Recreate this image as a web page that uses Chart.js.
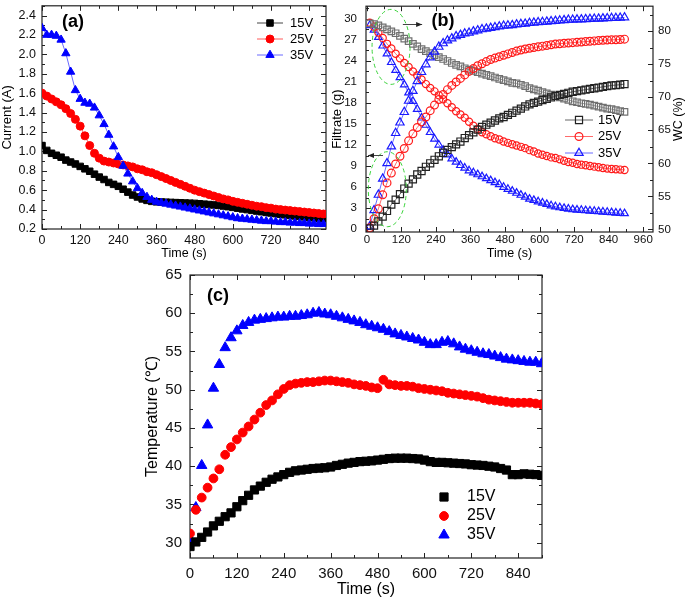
<!DOCTYPE html>
<html><head><meta charset="utf-8">
<script src="https://cdn.jsdelivr.net/npm/chart.js@4/dist/chart.umd.min.js"></script>
<style>
html,body{margin:0;padding:0;background:#fff;}
body{width:685px;height:601px;position:relative;overflow:hidden;}
canvas{position:absolute;}
#ca{left:0;top:0;}
#cb{left:330px;top:0;}
#cc{left:140px;top:262px;}
</style></head><body>
<canvas id="ca" width="340" height="266"></canvas>
<canvas id="cb" width="355" height="266"></canvas>
<canvas id="cc" width="420" height="339"></canvas>
<script>
// ---------- DATA ----------
const seriesLabels = ['15V', '25V', '35V'];

// Panel (a): current vs time
const timeA = [0,15,30,45,60,75,90,105,120,135,150,165,180,195,210,225,240,255,270,285,300,315,330,345,360,375,390,405,420,435,450,465,480,495,510,525,540,555,570,585,600,615,630,645,660,675,690,705,720,735,750,765,780,795,810,825,840,855,870,885];
const currentA15 = [1.06,1.01,0.98,0.96,0.94,0.91,0.89,0.87,0.845,0.82,0.795,0.765,0.735,0.71,0.68,0.66,0.64,0.61,0.58,0.55,0.53,0.51,0.495,0.485,0.48,0.478,0.476,0.474,0.472,0.47,0.468,0.466,0.464,0.46,0.456,0.452,0.448,0.443,0.437,0.43,0.423,0.415,0.407,0.40,0.392,0.385,0.378,0.371,0.365,0.358,0.352,0.346,0.34,0.335,0.33,0.325,0.32,0.316,0.312,0.308];
const currentA25 = [1.60,1.57,1.54,1.51,1.48,1.44,1.39,1.33,1.26,1.16,1.06,0.98,0.93,0.90,0.89,0.88,0.87,0.86,0.85,0.84,0.82,0.81,0.79,0.78,0.76,0.74,0.72,0.70,0.68,0.66,0.64,0.62,0.60,0.585,0.57,0.555,0.54,0.525,0.51,0.50,0.485,0.475,0.465,0.455,0.445,0.435,0.43,0.42,0.415,0.405,0.40,0.395,0.39,0.385,0.38,0.375,0.37,0.365,0.36,0.355];
const currentA35 = [2.27,2.20,2.20,2.19,2.15,2.01,1.82,1.63,1.54,1.50,1.49,1.45,1.37,1.28,1.17,1.05,0.94,0.85,0.77,0.69,0.62,0.57,0.53,0.50,0.48,0.47,0.46,0.45,0.44,0.43,0.42,0.41,0.40,0.39,0.38,0.37,0.36,0.35,0.34,0.33,0.32,0.31,0.305,0.30,0.295,0.29,0.285,0.28,0.28,0.275,0.27,0.27,0.265,0.265,0.26,0.26,0.255,0.255,0.25,0.25];
const ticksAx = [0,120,240,360,480,600,720,840];
const ticksAy = [0.2,0.4,0.6,0.8,1.0,1.2,1.4,1.6,1.8,2.0,2.2,2.4];

// Panel (b): filtrate (left axis) and water content (right axis)
const timeB = [10,25,40,55,70,85,100,115,130,145,160,175,190,205,220,235,250,265,280,295,310,325,340,355,370,385,400,415,430,445,460,475,490,505,520,535,550,565,580,595,610,625,640,655,670,685,700,715,730,745,760,775,790,805,820,835,850,865,880,895];
const filtrate15 = [0.1,0.5,1.1,1.8,2.6,3.5,4.2,5.0,5.8,6.5,7.1,7.8,8.3,8.9,9.4,9.9,10.4,10.9,11.3,11.7,12.1,12.5,13.0,13.4,13.8,14.2,14.6,14.9,15.2,15.5,15.8,16.0,16.3,16.6,16.9,17.2,17.5,17.8,18.0,18.2,18.4,18.6,18.8,19.0,19.15,19.3,19.45,19.6,19.7,19.8,19.9,20.0,20.1,20.2,20.3,20.4,20.5,20.55,20.6,20.7];
const filtrate25 = [0.2,1.5,2.9,4.9,6.6,8.0,9.3,10.4,11.5,12.6,13.6,14.5,15.3,16.0,16.9,17.7,18.5,19.2,19.9,20.5,21.0,21.5,22.0,22.5,22.9,23.3,23.6,23.9,24.2,24.4,24.6,24.8,25.0,25.2,25.4,25.55,25.7,25.8,25.9,26.0,26.1,26.2,26.3,26.4,26.45,26.5,26.55,26.6,26.65,26.7,26.75,26.8,26.85,26.9,26.95,26.98,27.0,27.02,27.05,27.1];
const filtrate35 = [0.4,2.7,4.9,7.2,9.4,11.8,13.7,15.2,16.7,18.3,19.7,21.1,22.4,23.5,24.5,25.3,26.0,26.5,26.9,27.2,27.5,27.7,27.9,28.0,28.2,28.35,28.5,28.6,28.7,28.8,28.9,29.0,29.05,29.1,29.2,29.25,29.3,29.4,29.45,29.5,29.55,29.6,29.65,29.7,29.75,29.8,29.85,29.87,29.9,29.92,29.95,29.97,30.0,30.02,30.05,30.08,30.1,30.12,30.15,30.2];
const wc15 = [81.2,81.1,80.9,80.6,80.3,80.0,79.7,79.3,78.9,78.5,78.1,77.7,77.3,77.0,76.7,76.4,76.1,75.8,75.5,75.2,74.9,74.7,74.4,74.2,74.0,73.8,73.6,73.4,73.2,73.0,72.8,72.6,72.4,72.2,72.1,71.9,71.7,71.4,71.2,71.0,70.8,70.6,70.4,70.2,70.0,69.8,69.6,69.4,69.25,69.1,69.0,68.9,68.75,68.6,68.45,68.3,68.2,68.05,67.9,67.8];
const wc25 = [81.3,80.7,79.8,79.0,78.1,77.4,76.6,75.9,75.2,74.6,73.9,73.3,72.7,72.0,71.4,70.9,70.3,69.7,69.1,68.5,67.9,67.4,66.9,66.3,65.7,65.2,64.7,64.4,64.1,63.8,63.6,63.3,63.1,62.9,62.7,62.5,62.3,62.0,61.8,61.5,61.3,61.1,60.9,60.8,60.6,60.4,60.2,60.1,59.9,59.8,59.7,59.6,59.5,59.4,59.3,59.2,59.15,59.1,59.05,59.0];
const wc35 = [80.9,80.2,79.1,77.8,76.6,75.3,74.1,73.0,71.9,70.7,69.4,68.2,66.9,65.8,64.7,63.7,62.8,62.0,61.3,60.7,60.2,59.7,59.3,58.9,58.6,58.3,58.0,57.7,57.4,57.1,56.8,56.4,56.1,55.8,55.5,55.2,54.9,54.6,54.4,54.2,54.0,53.8,53.6,53.45,53.3,53.2,53.1,53.0,52.95,52.9,52.85,52.8,52.75,52.7,52.65,52.6,52.55,52.5,52.45,52.4];
const ticksBx = [0,120,240,360,480,600,720,840,960];
const ticksBy = [0,3,6,9,12,15,18,21,24,27,30];
const ticksBy2 = [50,55,60,65,70,75,80];

// Panel (c): temperature vs time
const timeC = [0,15,30,45,60,75,90,105,120,135,150,165,180,195,210,225,240,255,270,285,300,315,330,345,360,375,390,405,420,435,450,465,480,495,510,525,540,555,570,585,600,615,630,645,660,675,690,705,720,735,750,765,780,795,810,825,840,855,870,885,900];
const temp15 = [29.5,30.1,30.7,31.4,32.2,32.8,33.4,33.9,34.7,35.5,36.2,36.9,37.4,37.9,38.3,38.6,38.9,39.2,39.4,39.5,39.6,39.7,39.75,39.8,39.9,40.1,40.25,40.4,40.5,40.6,40.65,40.7,40.8,40.9,41.0,41.05,41.05,41.05,41.0,40.95,40.8,40.6,40.5,40.5,40.45,40.4,40.35,40.3,40.2,40.15,40.1,40.0,39.9,39.7,39.5,38.9,38.9,39.0,38.95,38.9,38.8];
const temp25 = [31.2,34.3,35.9,37.2,38.4,39.6,41.5,42.5,43.5,44.4,45.2,46.1,47.0,48.0,48.6,49.4,50.1,50.6,50.8,50.9,51.0,51.0,51.1,51.2,51.2,51.1,51.0,50.9,50.7,50.6,50.5,50.3,50.2,51.3,50.7,50.6,50.5,50.5,50.4,50.2,50.1,50.0,49.9,49.8,49.6,49.5,49.4,49.3,49.2,49.1,48.9,48.7,48.6,48.5,48.4,48.3,48.3,48.3,48.3,48.2,48.1];
const temp35 = [30.5,34.6,40.1,45.4,50.2,53.3,55.5,56.8,57.7,58.4,58.8,59.1,59.2,59.3,59.4,59.5,59.5,59.6,59.6,59.7,59.8,60.0,60.1,59.9,59.8,59.6,59.4,59.2,59.0,58.8,58.5,58.3,58.1,57.9,57.6,57.3,57.1,56.9,56.7,56.5,56.2,55.9,55.9,56.2,56.3,56.0,55.6,55.3,55.1,54.9,54.7,54.6,54.4,54.2,54.0,53.9,53.8,53.7,53.6,53.6,53.4];
const ticksCx = [0,120,240,360,480,600,720,840];
const ticksCy = [30,35,40,45,50,55,60,65];

// ---------- HELPERS ----------
const FONT = "'Liberation Sans', Arial, Helvetica, sans-serif";
const pts = (xs, ys) => xs.map((x, i) => ({x: x, y: ys[i]}));

function axis(o) {
  return {
    type: 'linear', position: o.position, min: o.min, max: o.max,
    grid: {display: false, drawTicks: false}, border: {display: false},
    ticks: {padding: o.pad, font: {family: FONT, size: o.fs}, color: '#111',
            callback: o.fmt || (v => String(v))},
    title: {display: !!o.title, text: o.title, color: '#000',
            font: {family: FONT, size: o.tfs}, padding: o.tpad || {top: 0, bottom: 0}},
    afterBuildTicks: s => { s.ticks = o.tickVals.map(v => ({value: v})); },
    afterFit: s => {
      if (o.w != null) s.width = o.w;
      if (o.h != null) s.height = o.h;
      s.paddingLeft = 0; s.paddingRight = 0; s.paddingTop = 0; s.paddingBottom = 0;
    }
  };
}

function drawMarker(ctx, style, r, x, y) {
  ctx.beginPath();
  if (style === 'rect') {
    const s = r * Math.SQRT1_2;
    ctx.rect(x - s, y - s, 2 * s, 2 * s);
  } else if (style === 'triangle') {
    let a = 0;
    ctx.moveTo(x + Math.sin(a) * r, y - Math.cos(a) * r);
    a += 2 * Math.PI / 3;
    ctx.lineTo(x + Math.sin(a) * r, y - Math.cos(a) * r);
    a += 2 * Math.PI / 3;
    ctx.lineTo(x + Math.sin(a) * r, y - Math.cos(a) * r);
    ctx.closePath();
  } else {
    ctx.arc(x, y, r, 0, Math.PI * 2);
  }
  ctx.fill();
  ctx.stroke();
}

const framePlugin = {
  id: 'frame',
  beforeDatasetsDraw(chart, args, o) {
    const {ctx, chartArea: a, scales} = chart;
    ctx.save();
    ctx.strokeStyle = o.color; ctx.lineWidth = o.width;
    ctx.strokeRect(a.left, a.top, a.right - a.left, a.bottom - a.top);
    ctx.lineWidth = 1;
    const vals = (scale) => {
      const maj = scale.ticks.map(t => t.value);
      const step = maj[1] - maj[0];
      const mnr = [];
      if (maj[0] - step / 2 >= scale.min) mnr.push(maj[0] - step / 2);
      for (let i = 0; i < maj.length - 1; i++) mnr.push((maj[i] + maj[i + 1]) / 2);
      if (maj[maj.length - 1] + step / 2 <= scale.max) mnr.push(maj[maj.length - 1] + step / 2);
      return [maj.map(v => [v, o.major]), mnr.map(v => [v, o.minor])].flat();
    };
    const line = (x1, y1, x2, y2) => { ctx.beginPath(); ctx.moveTo(x1, y1); ctx.lineTo(x2, y2); ctx.stroke(); };
    vals(scales.x).forEach(([v, len]) => {
      const p = Math.round(scales.x.getPixelForValue(v)) + 0.5;
      if (p < a.left - 0.5 || p > a.right + 0.5) return;
      line(p, a.bottom, p, a.bottom - len);
      line(p, a.top, p, a.top + len);
    });
    vals(scales.y).forEach(([v, len]) => {
      const p = Math.round(scales.y.getPixelForValue(v)) + 0.5;
      if (p < a.top - 0.5 || p > a.bottom + 0.5) return;
      line(a.left, p, a.left + len, p);
      if (!o.rightAxis) line(a.right, p, a.right - len, p);
    });
    if (o.rightAxis) {
      const sr = scales[o.rightAxis];
      vals(sr).forEach(([v, len]) => {
        const p = Math.round(sr.getPixelForValue(v)) + 0.5;
        if (p < a.top - 0.5 || p > a.bottom + 0.5) return;
        line(a.right, p, a.right - len, p);
      });
    }
    ctx.restore();
  }
};

const decoPlugin = {
  id: 'deco',
  afterDraw(chart, args, o) {
    const {ctx, chartArea: a, scales} = chart;
    ctx.save();
    if (o.panel) {
      ctx.font = 'bold ' + o.panel.size + 'px ' + FONT;
      ctx.fillStyle = '#000'; ctx.textAlign = 'center'; ctx.textBaseline = 'middle';
      ctx.fillText(o.panel.text, a.left + o.panel.dx, a.top + o.panel.dy);
    }
    if (o.rightTitle) {
      const rt = o.rightTitle;
      ctx.save();
      ctx.translate(chart.width - rt.dxFromRight, (a.top + a.bottom) / 2);
      ctx.rotate(-Math.PI / 2);
      ctx.font = rt.size + 'px ' + FONT;
      ctx.fillStyle = '#000'; ctx.textAlign = 'center'; ctx.textBaseline = 'middle';
      ctx.fillText(rt.text, 0, 0);
      ctx.restore();
    }
    (o.ellipses || []).forEach(e => {
      ctx.strokeStyle = '#39d239'; ctx.lineWidth = 1; ctx.setLineDash([4, 3]);
      ctx.beginPath();
      ctx.ellipse(scales.x.getPixelForValue(e.x), scales.y.getPixelForValue(e.y), e.rx, e.ry, e.rot || 0, 0, Math.PI * 2);
      ctx.stroke();
      ctx.setLineDash([]);
    });
    (o.arrows || []).forEach(ar => {
      const x1 = scales.x.getPixelForValue(ar.from), x2 = scales.x.getPixelForValue(ar.to);
      const y = Math.round(scales.y.getPixelForValue(ar.y)) + 0.5;
      ctx.strokeStyle = '#444'; ctx.fillStyle = '#222'; ctx.lineWidth = 1;
      ctx.beginPath(); ctx.moveTo(x1, y); ctx.lineTo(x2, y); ctx.stroke();
      const d = Math.sign(x2 - x1);
      ctx.beginPath(); ctx.moveTo(x2, y); ctx.lineTo(x2 - d * 6, y - 2.5); ctx.lineTo(x2 - d * 6, y + 2.5); ctx.closePath(); ctx.fill();
    });
    if (o.legend) {
      const L = o.legend;
      L.items.forEach((idx, i) => {
        const ds = chart.data.datasets[idx];
        const y = L.y0 + i * L.dy;
        if (L.lineLen) {
          ctx.strokeStyle = ds.borderColor; ctx.lineWidth = 1;
          ctx.beginPath(); ctx.moveTo(L.x - L.lineLen / 2, y); ctx.lineTo(L.x + L.lineLen / 2, y); ctx.stroke();
        }
        ctx.fillStyle = ds.pointBackgroundColor; ctx.strokeStyle = ds.pointBorderColor; ctx.lineWidth = ds.pointBorderWidth;
        drawMarker(ctx, ds.pointStyle, ds.pointRadius, L.x, y);
        ctx.fillStyle = '#000'; ctx.font = L.fs + 'px ' + FONT;
        ctx.textAlign = 'left'; ctx.textBaseline = 'middle';
        ctx.fillText(ds.label, L.textX, y);
      });
    }
    ctx.restore();
  }
};

function ds(label, xs, ys, o) {
  return Object.assign({
    label: label, data: pts(xs, ys), showLine: true, borderWidth: 1,
    pointBorderWidth: 1, pointHoverRadius: 0
  }, o);
}

const baseOpts = {responsive: false, animation: false, events: [],
  plugins: {legend: {display: false}, tooltip: {enabled: false}}};

// ---------- PANEL (a) ----------
new Chart(document.getElementById('ca'), {
  type: 'scatter',
  data: {datasets: [
    ds(seriesLabels[0], timeA, currentA15, {borderColor: '#444', pointStyle: 'rect', pointRadius: 4.6,
       pointBackgroundColor: '#000', pointBorderColor: '#000', clip: 0, order: 2}),
    ds(seriesLabels[1], timeA, currentA25, {borderColor: '#ff5a5a', pointStyle: 'circle', pointRadius: 4.0,
       pointBackgroundColor: '#ff0000', pointBorderColor: '#ff0000', clip: 0, order: 1}),
    ds(seriesLabels[2], timeA, currentA35, {borderColor: '#6a6aff', pointStyle: 'triangle', pointRadius: 4.8,
       pointBackgroundColor: '#0000ff', pointBorderColor: '#0000ff', clip: 0, order: 0})
  ]},
  options: Object.assign({}, baseOpts, {
    layout: {padding: {left: 0, top: 1, right: 14, bottom: 0}},
    scales: {
      x: axis({position: 'bottom', min: 0, max: 893, tickVals: ticksAx, pad: 4, fs: 12.5, h: 37,
               title: 'Time (s)', tfs: 12.5, tpad: {top: 0, bottom: 4.5}}),
      y: axis({position: 'left', min: 0.2, max: 2.5, tickVals: ticksAy, pad: 6, fs: 12.5, w: 42,
               fmt: v => v.toFixed(1), title: 'Current (A)', tfs: 13, tpad: {top: 0, bottom: 0}})
    },
    plugins: Object.assign({}, baseOpts.plugins, {
      frame: {color: '#222', width: 1.2, major: 5, minor: 3},
      deco: {panel: {text: '(a)', size: 18, dx: 31, dy: 16},
             legend: {items: [0, 1, 2], x: 270, lineLen: 26, textX: 290, y0: 23, dy: 16, fs: 13}}
    })
  }),
  plugins: [framePlugin, decoPlugin]
});

// ---------- PANEL (b) ----------
const openPt = 'rgba(0,0,0,0)';
new Chart(document.getElementById('cb'), {
  type: 'scatter',
  data: {datasets: [
    ds(seriesLabels[0], timeB, filtrate15, {yAxisID: 'y', borderColor: '#666', pointStyle: 'rect', pointRadius: 5,
       pointBackgroundColor: openPt, pointBorderColor: '#222', pointBorderWidth: 1.2}),
    ds(seriesLabels[1], timeB, filtrate25, {yAxisID: 'y', borderColor: '#ff6a6a', pointStyle: 'circle', pointRadius: 3.9,
       pointBackgroundColor: openPt, pointBorderColor: '#ff1a1a', pointBorderWidth: 1.2}),
    ds(seriesLabels[2], timeB, filtrate35, {yAxisID: 'y', borderColor: '#6a6aff', pointStyle: 'triangle', pointRadius: 4.8,
       pointBackgroundColor: openPt, pointBorderColor: '#1a1aff', pointBorderWidth: 1.2}),
    ds(seriesLabels[0], timeB, wc15, {yAxisID: 'y2', borderColor: '#999', pointStyle: 'rect', pointRadius: 4.6,
       pointBackgroundColor: openPt, pointBorderColor: '#707070', pointBorderWidth: 1.2}),
    ds(seriesLabels[1], timeB, wc25, {yAxisID: 'y2', borderColor: '#ff6a6a', pointStyle: 'circle', pointRadius: 3.6,
       pointBackgroundColor: openPt, pointBorderColor: '#ff1a1a', pointBorderWidth: 1.2}),
    ds(seriesLabels[2], timeB, wc35, {yAxisID: 'y2', borderColor: '#6a6aff', pointStyle: 'triangle', pointRadius: 4.4,
       pointBackgroundColor: openPt, pointBorderColor: '#1a1aff', pointBorderWidth: 1.2})
  ]},
  options: Object.assign({}, baseOpts, {
    layout: {padding: {left: 0, top: 1, right: 0, bottom: 0}},
    scales: {
      x: axis({position: 'bottom', min: -3, max: 994, tickVals: ticksBx, pad: 1, fs: 11.5, h: 34,
               title: 'Time (s)', tfs: 12.5, tpad: {top: 0, bottom: 4.5}}),
      y: axis({position: 'left', min: -0.4, max: 31.8, tickVals: ticksBy, pad: 9, fs: 11.5, w: 36,
               title: 'Filtrate (g)', tfs: 13, tpad: {top: 0, bottom: 0}}),
      y2: axis({position: 'right', min: 49.6, max: 83.8, tickVals: ticksBy2, pad: 5, fs: 11.5, w: 32})
    },
    plugins: Object.assign({}, baseOpts.plugins, {
      frame: {color: '#222', width: 1.2, major: 5, minor: 3, rightAxis: 'y2'},
      deco: {panel: {text: '(b)', size: 18, dx: 77, dy: 15},
             rightTitle: {text: 'WC (%)', size: 12.5, dxFromRight: 6},
             ellipses: [{x: 84, y: 26.0, rx: 19, ry: 37.5}, {x: 71, y: 5.7, rx: 19, ry: 37.5}],
             arrows: [{from: 125, to: 192, y: 29.3}, {from: 56, to: 4, y: 10.6}],
             legend: {items: [0, 1, 2], x: 249, lineLen: 28, textX: 268, y0: 120, dy: 16.5, fs: 13}}
    })
  }),
  plugins: [framePlugin, decoPlugin]
});

// ---------- PANEL (c) ----------
new Chart(document.getElementById('cc'), {
  type: 'scatter',
  data: {datasets: [
    ds(seriesLabels[0], timeC, temp15, {showLine: false, pointStyle: 'rect', pointRadius: 5.8,
       pointBackgroundColor: '#000', pointBorderColor: '#000', borderColor: '#000', clip: 0}),
    ds(seriesLabels[1], timeC, temp25, {showLine: false, pointStyle: 'circle', pointRadius: 4.4,
       pointBackgroundColor: '#ff0000', pointBorderColor: '#ff0000', borderColor: '#ff0000', clip: 0}),
    ds(seriesLabels[2], timeC, temp35, {showLine: false, pointStyle: 'triangle', pointRadius: 6,
       pointBackgroundColor: '#0000ff', pointBorderColor: '#0000ff', borderColor: '#0000ff', clip: 0})
  ]},
  options: Object.assign({}, baseOpts, {
    layout: {padding: {left: 0, top: 13, right: 18, bottom: 0}},
    scales: {
      x: axis({position: 'bottom', min: 0, max: 901, tickVals: ticksCx, pad: 6.5, fs: 15, h: 43,
               title: 'Time (s)', tfs: 16, tpad: {top: 0, bottom: 1.4}}),
      y: axis({position: 'left', min: 28, max: 65, tickVals: ticksCy, pad: 8, fs: 15, w: 50,
               title: 'Temperature (\u2103)', tfs: 16, tpad: {top: 3.4, bottom: 0}})
    },
    plugins: Object.assign({}, baseOpts.plugins, {
      frame: {color: '#222', width: 1.2, major: 5, minor: 3},
      deco: {panel: {text: '(c)', size: 18, dx: 28, dy: 21},
             legend: {items: [0, 1, 2], x: 304, lineLen: 0, textX: 327, y0: 235, dy: 19, fs: 16}}
    })
  }),
  plugins: [framePlugin, decoPlugin]
});
</script>
</body></html>
